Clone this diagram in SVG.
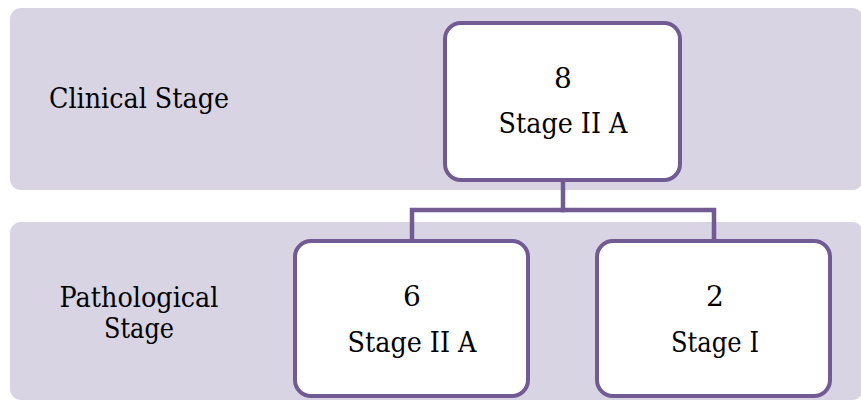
<svg xmlns="http://www.w3.org/2000/svg" width="861" height="401" viewBox="0 0 861 401">
<style>
.band{fill:#D8D4E3}
.box{fill:#FFFFFF;stroke:#725A93;stroke-width:4}
.conn{fill:none;stroke:#725A93;stroke-width:4.5;stroke-linejoin:miter;stroke-linecap:square}
.t{font-family:'DejaVu Serif','Liberation Serif',serif;font-size:28px;fill:#000;text-anchor:middle}
</style>
<rect width="861" height="401" fill="#FFFFFF"/>
<g id="band-clinical"><rect class="band" x="10" y="8" width="853" height="182" rx="11"/>
<text class="t" x="139" y="108" textLength="180" lengthAdjust="spacingAndGlyphs">Clinical Stage</text></g>
<g id="band-pathological"><rect class="band" x="10" y="222" width="853" height="178" rx="11"/>
<text class="t" x="139" y="307" textLength="159" lengthAdjust="spacingAndGlyphs">Pathological</text><text class="t" x="139" y="338" textLength="70" lengthAdjust="spacingAndGlyphs">Stage</text></g>
<g id="connectors">
<polyline class="conn" points="563,182 563,210 412,210 412,240"/>
<polyline class="conn" points="563,210 714,210 714,240"/>
</g>
<g id="node-clinical"><rect class="box" x="445" y="23" width="235" height="157" rx="16"/>
<text class="t" x="563" y="88">8</text><text class="t" x="563" y="133" textLength="129" lengthAdjust="spacingAndGlyphs">Stage II A</text></g>
<g id="node-path-a"><rect class="box" x="295" y="241" width="233" height="155" rx="16"/>
<text class="t" x="412" y="306">6</text><text class="t" x="412" y="352" textLength="129" lengthAdjust="spacingAndGlyphs">Stage II A</text></g>
<g id="node-path-b"><rect class="box" x="597" y="241" width="233" height="155" rx="16"/>
<text class="t" x="715" y="306">2</text><text class="t" x="715" y="352" textLength="88" lengthAdjust="spacingAndGlyphs">Stage I</text></g>
</svg>
